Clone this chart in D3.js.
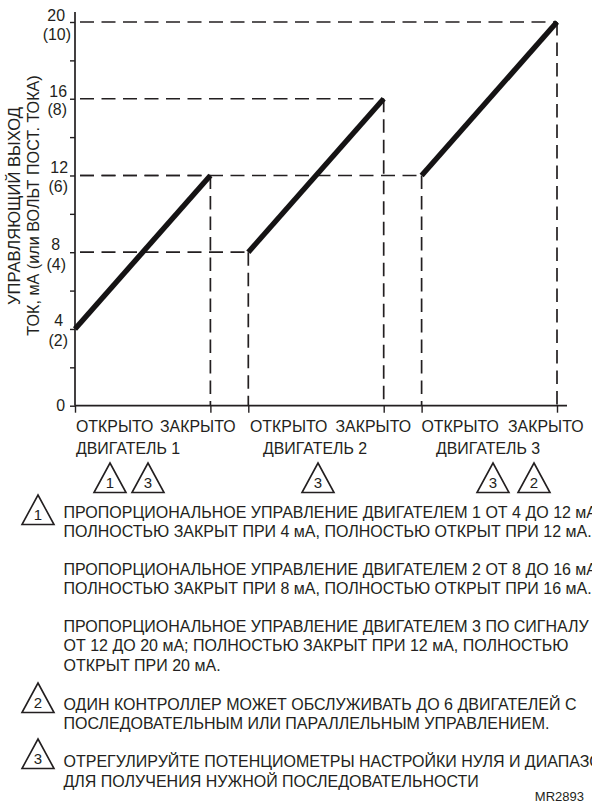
<!DOCTYPE html>
<html><head><meta charset="utf-8">
<script src="https://cdnjs.cloudflare.com/ajax/libs/d3/7.8.5/d3.min.js"></script>
<style>html,body{margin:0;background:#fff;overflow:hidden}svg{display:block}text{font-family:"Liberation Sans",Arial,sans-serif;fill:#231f20}</style>
</head><body><div id="c"></div><script>
const motors = ["ДВИГАТЕЛЬ 1","ДВИГАТЕЛЬ 2","ДВИГАТЕЛЬ 3"];
const motorStart = [0,128,256];
const motorEnd = [100,228,356];
const signalLow = [4,8,12];
const signalHigh = [12,16,20];
const majorTicks = [0,4,8,12,16,20];
const minorTicks = [2,6,10,14,18];
const voltLabels = ["","(2)","(4)","(6)","(8)","(10)"];
const positionLabels = ["ОТКРЫТО","ЗАКРЫТО"];
const yTitle = ["УПРАВЛЯЮЩИЙ ВЫХОД","ТОК, мА (или ВОЛЬТ ПОСТ. ТОКА)"];
const motorBadges = [[1,3],[3],[3,2]];
const noteLines = [
 "ПРОПОРЦИОНАЛЬНОЕ УПРАВЛЕНИЕ ДВИГАТЕЛЕМ 1 ОТ 4 ДО 12 мА;",
 "ПОЛНОСТЬЮ ЗАКРЫТ ПРИ 4 мА, ПОЛНОСТЬЮ ОТКРЫТ ПРИ 12 мА.",
 "ПРОПОРЦИОНАЛЬНОЕ УПРАВЛЕНИЕ ДВИГАТЕЛЕМ 2 ОТ 8 ДО 16 мА;",
 "ПОЛНОСТЬЮ ЗАКРЫТ ПРИ 8 мА, ПОЛНОСТЬЮ ОТКРЫТ ПРИ 16 мА.",
 "ПРОПОРЦИОНАЛЬНОЕ УПРАВЛЕНИЕ ДВИГАТЕЛЕМ 3 ПО СИГНАЛУ",
 "ОТ 12 ДО 20 мА; ПОЛНОСТЬЮ ЗАКРЫТ ПРИ 12 мА, ПОЛНОСТЬЮ",
 "ОТКРЫТ ПРИ 20 мА.",
 "ОДИН КОНТРОЛЛЕР МОЖЕТ ОБСЛУЖИВАТЬ ДО 6 ДВИГАТЕЛЕЙ С",
 "ПОСЛЕДОВАТЕЛЬНЫМ ИЛИ ПАРАЛЛЕЛЬНЫМ УПРАВЛЕНИЕМ.",
 "ОТРЕГУЛИРУЙТЕ ПОТЕНЦИОМЕТРЫ НАСТРОЙКИ НУЛЯ И ДИАПАЗОНА",
 "ДЛЯ ПОЛУЧЕНИЯ НУЖНОЙ ПОСЛЕДОВАТЕЛЬНОСТИ"
];
const noteBadges = [1,2,3];
const code = "MR2893";

// layout
const ink="#231f20", FS=15.9;
const noteY=[518,536.5,575,594,632,651,671,710,729,767,786.5];
const noteBadgeTop=[495,683,739];
const badgeX=[[110,148],[318],[493,534]];
const tickLabelY={0:411,4:326,8:250,12:173,16:97,20:21};
const tickLabelX={0:65,4:63,8:60,12:68,16:67,20:65};
const voltY={4:346,8:270,12:192,16:115,20:40};
const voltX={4:68,8:66,12:68,16:67,20:71};
const openX=[76,250,421.5], closeX=[235.5,411,583.5], motorX=[76,263,436];

const svg=d3.select("#c").append("svg").attr("width",592).attr("height",804);
const x=d3.scaleLinear().domain([0,356]).range([75,557]);
const y=d3.scaleLinear().domain([0,20]).range([405.7,22]);
const line=(a,b,c,d,w,da)=>svg.append("line").attr("x1",a).attr("y1",b).attr("x2",c).attr("y2",d).attr("stroke",ink).attr("stroke-width",w).attr("stroke-dasharray",da||null);
const H="14 7.5", V="13.5 7";

motors.forEach((m,i)=>{
  const top=y(signalHigh[i]), low=y(signalLow[i]);
  line(80,top,x(motorEnd[i]),top,1.7,H);
  line(x(motorEnd[i]),top,x(motorEnd[i]),y(0),1.7,V);
  if(i>0){
    line(80,low,x(motorStart[i]),low,1.7,H);
    line(x(motorStart[i]),low,x(motorStart[i]),y(0),1.7,V);
  }
});
line(75,12,75,y(0),1.7);
line(75,y(0),567,y(0),1.7);
svg.append("g").attr("transform","translate(75,0)")
  .call(d3.axisLeft(y).tickValues(majorTicks.concat(minorTicks)).tickSize(5).tickFormat(""))
  .call(g=>g.select(".domain").remove()).call(g=>g.selectAll("line").attr("stroke",ink).attr("stroke-width",1.4));
svg.append("g").attr("transform",`translate(0,${y(0)})`)
  .call(d3.axisBottom(x).tickValues(motorStart.concat(motorEnd)).tickSize(7).tickFormat(""))
  .call(g=>g.select(".domain").remove()).call(g=>g.selectAll("line").attr("stroke",ink).attr("stroke-width",1.4));

const label=(px,py,s,anchor,size)=>svg.append("text").attr("x",px).attr("y",py).attr("text-anchor",anchor||"start").attr("font-size",size||FS).text(s);
majorTicks.forEach((t,i)=>{
  label(tickLabelX[t],tickLabelY[t],t,"end");
  if(voltLabels[i]) label(voltX[t],voltY[t],voltLabels[i],"end");
});
yTitle.forEach((s,i)=>svg.append("text").attr("transform",`translate(${i?39:20},${i?205.5:206}) rotate(-90)`).attr("text-anchor","middle").attr("font-size",i?16.2:16.6).text(s));

const lineGen=d3.line().x(d=>x(d[0])).y(d=>y(d[1]));
motors.forEach((m,i)=>svg.append("path").attr("d",lineGen([[motorStart[i],signalLow[i]],[motorEnd[i],signalHigh[i]]])).attr("stroke","#151314").attr("stroke-width",5.4).attr("fill","none"));

const tri=(cx,top,n)=>{
  svg.append("path").attr("d",`M${cx},${top}L${cx+16},${top+29.5}L${cx-16},${top+29.5}Z`).attr("fill","none").attr("stroke",ink).attr("stroke-width",1.6);
  label(cx,top+25,n,"middle",15);
};
motors.forEach((m,i)=>{
  label(openX[i],431.5,positionLabels[0]);
  label(closeX[i],431.5,positionLabels[1],"end");
  label(motorX[i],454,m);
});
motorBadges.forEach((b,i)=>b.forEach((n,j)=>tri(badgeX[i][j],463,n)));
noteLines.forEach((s,k)=>label(63.5,noteY[k],s).attr("font-size",16));
noteBadges.forEach((n,k)=>tri(38,noteBadgeTop[k],n));
label(584,801,code,"end",13);
</script></body></html>
